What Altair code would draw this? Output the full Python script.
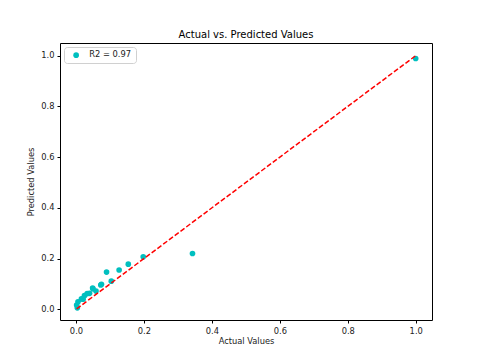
import altair as alt
import pandas as pd

actual = [0.002, 0.004, 0.006, 0.016, 0.021, 0.025, 0.033, 0.040, 0.049, 0.050,
          0.059, 0.073, 0.075, 0.090, 0.104, 0.127, 0.154, 0.198, 0.343, 1.0]
predicted = [0.017, 0.006, 0.030, 0.041, 0.040, 0.054, 0.062, 0.063, 0.084, 0.081,
             0.072, 0.096, 0.099, 0.147, 0.111, 0.155, 0.178, 0.207, 0.220, 0.989]
legend_label = "R2 = 0.97"
line_vals = [min(actual), max(actual)]

pts = pd.DataFrame({"actual": actual, "predicted": predicted, "label": legend_label})
line = pd.DataFrame({"x": line_vals, "y": line_vals})

xs = alt.Scale(domain=[-0.047, 1.048], nice=False, zero=False)
ys = alt.Scale(domain=[-0.042, 1.050], nice=False, zero=False)

axis_common = dict(
    grid=False, domain=False, tickColor="black", tickSize=3, tickWidth=1,
    labelFont="DejaVu Sans", labelFontSize=8.3, labelColor="#222222",
    titleFont="DejaVu Sans", titleFontSize=8.3, titleFontWeight="normal",
    titleColor="#222222", format=".1f", values=[0, 0.2, 0.4, 0.6, 0.8, 1.0],
)

scatter = alt.Chart(pts).mark_circle(size=32, opacity=1).encode(
    x=alt.X("actual:Q", scale=xs, title="Actual Values",
            axis=alt.Axis(labelPadding=3.5, titlePadding=2, **axis_common)),
    y=alt.Y("predicted:Q", scale=ys, title="Predicted Values",
            axis=alt.Axis(labelPadding=3, titlePadding=5, **axis_common)),
    color=alt.Color("label:N", scale=alt.Scale(range=["#00bfbf"]),
                    legend=alt.Legend(title=None, orient="none", legendX=4, legendY=4,
                                      strokeColor="#d0d0d0", fillColor="white",
                                      cornerRadius=3, padding=4,
                                      labelFont="DejaVu Sans", labelFontSize=8.3,
                                      labelColor="#222222", symbolSize=32,
                                      symbolType="circle", symbolOffset=4,
                                      labelOffset=9)),
)

ref = alt.Chart(line).mark_line(color="red", strokeWidth=1.5, strokeDash=[5, 2.2]).encode(
    x=alt.X("x:Q", scale=xs), y=alt.Y("y:Q", scale=ys)
)

chart = (scatter + ref).properties(
    width=372, height=277,
    title=alt.Title("Actual vs. Predicted Values", font="DejaVu Sans", fontSize=10,
                    fontWeight="normal", color="black", offset=3),
    autosize=alt.AutoSizeParams(type="none"),
    padding={"left": 52, "top": 35, "right": 40, "bottom": 30},
).configure_view(stroke="black", strokeWidth=1)

chart.save("out.html", embed_options={"renderer": "svg", "actions": False})
